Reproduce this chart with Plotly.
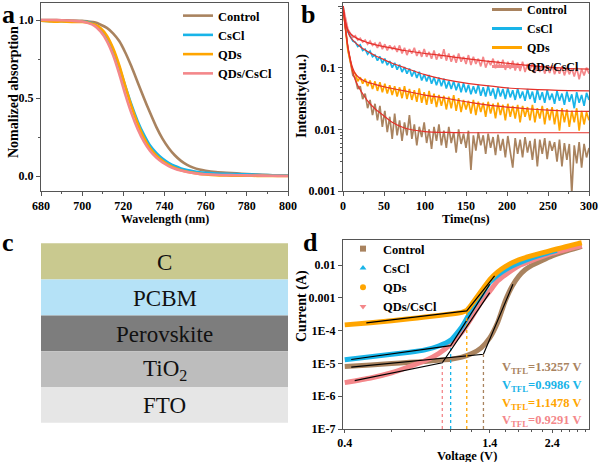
import plotly.graph_objects as go

W, H = 600, 462
def px(x): return x / W
def py(y): return 1 - y / H

FONT = "Liberation Serif"
C_CTRL = "#A9835F"
C_CSCL = "#18B4E8"
C_QDS = "#FFA500"
C_QC = "#F4878A"
C_FIT = "#E5302A"
AX = "#555555"

samples = ["Control", "CsCl", "QDs", "QDs/CsCl"]
colors = [C_CTRL, C_CSCL, C_QDS, C_QC]

# ---------------- panel a : absorption ----------------
wl = [680, 685, 690, 695, 700, 703, 706, 709, 712, 715, 718, 721, 724, 727, 730, 733,
      736, 739, 742, 745, 748, 751, 754, 757, 760, 765, 770, 775, 780, 785, 790, 795, 800]
abs_ctrl = [1.0, 1.0, 0.998, 0.997, 0.995, 0.99, 0.985, 0.97, 0.95, 0.915, 0.865, 0.79, 0.7,
            0.6, 0.5, 0.405, 0.315, 0.24, 0.18, 0.133, 0.097, 0.072, 0.054, 0.042, 0.034,
            0.025, 0.02, 0.017, 0.013, 0.009, 0.006, 0.003, 0.002]
abs_cscl = [0.995, 0.993, 0.992, 0.99, 0.99, 0.985, 0.97, 0.94, 0.89, 0.81, 0.7, 0.575, 0.455,
            0.35, 0.265, 0.195, 0.148, 0.112, 0.085, 0.064, 0.049, 0.038, 0.03, 0.024, 0.02,
            0.016, 0.014, 0.012, 0.011, 0.008, 0.006, 0.004, 0.003]
abs_qds = [0.995, 0.99, 0.99, 0.988, 0.988, 0.983, 0.972, 0.948, 0.9, 0.82, 0.71, 0.575, 0.445,
           0.335, 0.245, 0.178, 0.132, 0.097, 0.071, 0.051, 0.037, 0.027, 0.02, 0.014, 0.01,
           0.005, 0.003, 0.002, 0.002, 0.001, 0.001, 0.0, 0.0]
abs_qc = [1.0, 1.0, 0.998, 0.995, 0.99, 0.98, 0.962, 0.925, 0.865, 0.775, 0.655, 0.52, 0.4,
          0.3, 0.22, 0.16, 0.118, 0.087, 0.064, 0.047, 0.035, 0.026, 0.019, 0.014, 0.011,
          0.008, 0.006, 0.005, 0.004, 0.003, 0.002, 0.001, 0.0]

# ---------------- panel b : TRPL ----------------
t_ns = list(range(0, 301, 3))
pl_ctrl = [1.0, 0.42, 0.2, 0.125, 0.075, 0.068, 0.045, 0.05, 0.031, 0.038,
           0.022, 0.03, 0.017, 0.026, 0.014, 0.024, 0.011, 0.02, 0.009, 0.016,
           0.007, 0.018, 0.008, 0.014, 0.0065, 0.013, 0.008, 0.017, 0.007, 0.012,
           0.0055, 0.011, 0.0075, 0.013, 0.006, 0.01, 0.0048, 0.011, 0.0065, 0.012,
           0.0055, 0.0095, 0.005, 0.011, 0.006, 0.009, 0.0042, 0.01, 0.0058, 0.0085,
           0.005, 0.0095, 0.0022, 0.008, 0.0045, 0.009, 0.0055, 0.008, 0.004, 0.0085,
           0.005, 0.0075, 0.0038, 0.0082, 0.0045, 0.007, 0.0035, 0.0078, 0.0045, 0.0024,
           0.0072, 0.004, 0.0068, 0.0035, 0.0075, 0.0042, 0.0065, 0.0032, 0.007, 0.0025,
           0.0068, 0.004, 0.0072, 0.0033, 0.0065, 0.0045, 0.0062, 0.003, 0.0068, 0.0025,
           0.006, 0.0032, 0.0058, 0.0009, 0.0055, 0.0028, 0.0062, 0.0024, 0.0058, 0.0035,
           0.005]
pl_cscl = [1.0, 0.52, 0.38, 0.31, 0.27, 0.26, 0.22, 0.235, 0.19, 0.2,
           0.165, 0.185, 0.15, 0.16, 0.13, 0.152, 0.118, 0.14, 0.11, 0.128,
           0.1, 0.12, 0.093, 0.112, 0.085, 0.102, 0.08, 0.097, 0.072, 0.09,
           0.068, 0.086, 0.062, 0.078, 0.06, 0.076, 0.055, 0.07, 0.052, 0.069,
           0.05, 0.066, 0.046, 0.061, 0.045, 0.06, 0.043, 0.057, 0.04, 0.056,
           0.04, 0.053, 0.037, 0.05, 0.038, 0.053, 0.035, 0.048, 0.034, 0.051,
           0.035, 0.046, 0.031, 0.048, 0.034, 0.045, 0.031, 0.047, 0.033, 0.043,
           0.03, 0.046, 0.032, 0.041, 0.029, 0.045, 0.031, 0.041, 0.027, 0.044,
           0.03, 0.04, 0.027, 0.043, 0.03, 0.038, 0.026, 0.042, 0.029, 0.038,
           0.025, 0.041, 0.028, 0.037, 0.022, 0.04, 0.027, 0.036, 0.024, 0.039,
           0.03]
pl_qds = [1.0, 0.43, 0.19, 0.125, 0.085, 0.08, 0.06, 0.07, 0.055, 0.066,
          0.05, 0.062, 0.045, 0.06, 0.042, 0.058, 0.04, 0.055, 0.038, 0.052,
          0.036, 0.05, 0.034, 0.048, 0.032, 0.05, 0.031, 0.045, 0.03, 0.043,
          0.028, 0.046, 0.027, 0.04, 0.025, 0.042, 0.026, 0.038, 0.023, 0.036,
          0.024, 0.035, 0.021, 0.034, 0.022, 0.036, 0.02, 0.032, 0.019, 0.03,
          0.021, 0.029, 0.018, 0.03, 0.017, 0.028, 0.019, 0.027, 0.016, 0.028,
          0.018, 0.026, 0.015, 0.027, 0.017, 0.025, 0.014, 0.026, 0.016, 0.024,
          0.015, 0.025, 0.013, 0.024, 0.016, 0.023, 0.014, 0.025, 0.013, 0.022,
          0.015, 0.024, 0.012, 0.022, 0.014, 0.023, 0.012, 0.021, 0.0095, 0.022,
          0.013, 0.021, 0.011, 0.02, 0.013, 0.022, 0.0095, 0.02, 0.012, 0.019,
          0.014]
pl_qc = [1.0, 0.6, 0.42, 0.36, 0.31, 0.33, 0.28, 0.3, 0.26, 0.28,
         0.24, 0.27, 0.23, 0.25, 0.21, 0.26, 0.2, 0.24, 0.19, 0.23,
         0.2, 0.22, 0.18, 0.23, 0.17, 0.21, 0.16, 0.2, 0.17, 0.21,
         0.155, 0.19, 0.15, 0.2, 0.15, 0.18, 0.14, 0.19, 0.135, 0.17,
         0.14, 0.2, 0.13, 0.17, 0.125, 0.16, 0.12, 0.17, 0.125, 0.15,
         0.115, 0.16, 0.11, 0.15, 0.115, 0.14, 0.105, 0.15, 0.1, 0.13,
         0.11, 0.14, 0.098, 0.13, 0.1, 0.135, 0.092, 0.125, 0.095, 0.13,
         0.09, 0.12, 0.088, 0.125, 0.085, 0.115, 0.09, 0.12, 0.082, 0.11,
         0.085, 0.115, 0.08, 0.105, 0.082, 0.11, 0.078, 0.1, 0.08, 0.105,
         0.075, 0.1, 0.078, 0.098, 0.072, 0.1, 0.065, 0.095, 0.075, 0.1,
         0.08]
fit_t = [0, 1, 2, 3, 4, 5, 6, 8, 10, 12, 15, 20, 25, 30, 40, 50, 60, 75, 100, 125, 150,
         175, 200, 225, 250, 275, 300]
fit_ctrl = [1.0, 0.75, 0.55, 0.42, 0.33, 0.26, 0.21, 0.15, 0.11, 0.085, 0.063, 0.046, 0.036,
            0.029, 0.021, 0.0165, 0.013, 0.0105, 0.0092, 0.0089, 0.0088, 0.0088, 0.0088,
            0.0088, 0.0088, 0.0088, 0.0088]
fit_cscl = [1.0, 0.8, 0.65, 0.55, 0.48, 0.43, 0.39, 0.33, 0.3, 0.28, 0.255, 0.225, 0.2,
            0.183, 0.155, 0.135, 0.118, 0.1, 0.077, 0.064, 0.056, 0.051, 0.047, 0.045,
            0.0435, 0.0425, 0.042]
fit_qds = [1.0, 0.75, 0.56, 0.43, 0.34, 0.27, 0.22, 0.16, 0.12, 0.098, 0.08, 0.068, 0.062,
           0.058, 0.053, 0.049, 0.046, 0.042, 0.036, 0.032, 0.028, 0.025, 0.023, 0.0215,
           0.0205, 0.0198, 0.0195]
fit_qc = [1.0, 0.8, 0.65, 0.56, 0.49, 0.44, 0.41, 0.37, 0.345, 0.33, 0.31, 0.285, 0.27,
          0.255, 0.235, 0.22, 0.207, 0.19, 0.17, 0.155, 0.14, 0.128, 0.118, 0.109, 0.102,
          0.097, 0.095]

# ---------------- panel c : device stack ----------------
layers = ["C", "PCBM", "Perovskite", "TiO<sub>2</sub>", "FTO"]
layer_colors = ["#C9C98F", "#B5E2F7", "#7D7D7D", "#BDBDBD", "#E6E6E6"]

# ---------------- panel d : SCLC ----------------
v_ctrl = [0.4, 0.5, 0.6, 0.7, 0.8, 0.9, 1.0, 1.1, 1.2, 1.3, 1.4, 1.5, 1.6, 1.7, 1.8, 1.9,
          2.0, 2.2, 2.4, 2.6, 2.8, 3.0, 3.1]
i_ctrl = [8.0e-6, 9.0e-6, 1.0e-5, 1.08e-5, 1.15e-5, 1.25e-5, 1.35e-5, 1.55e-5, 2.0e-5,
          3.0e-5, 6.0e-5, 1.8e-4, 8.0e-4, 2.3e-3, 4.6e-3, 7.2e-3, 9.5e-3, 0.0138, 0.019,
          0.024, 0.029, 0.034, 0.037]
v_cscl = [0.4, 0.5, 0.6, 0.7, 0.8, 0.9, 1.0, 1.1, 1.2, 1.3, 1.4, 1.5, 1.6, 1.8, 2.0, 2.2,
          2.5]
i_cscl = [1.3e-5, 1.6e-5, 1.9e-5, 2.2e-5, 2.6e-5, 3.4e-5, 5.2e-5, 1.3e-4, 4.5e-4, 1.2e-3,
          3.0e-3, 5.0e-3, 7.2e-3, 0.0115, 0.0162, 0.021, 0.028]
v_qds = [0.4, 0.5, 0.6, 0.7, 0.8, 0.9, 1.0, 1.1, 1.15, 1.2, 1.3, 1.4, 1.5, 1.6, 1.8, 2.0,
         2.2, 2.4, 2.6, 2.8, 3.0, 3.1]
i_qds = [1.5e-4, 1.75e-4, 2.0e-4, 2.3e-4, 2.6e-4, 2.9e-4, 3.2e-4, 3.6e-4, 4.2e-4, 6.5e-4,
         1.6e-3, 3.6e-3, 6.2e-3, 9.0e-3, 0.0145, 0.019, 0.0235, 0.0285, 0.0335, 0.039,
         0.045, 0.048]
v_qc = [0.4, 0.5, 0.6, 0.7, 0.8, 0.9, 1.0, 1.1, 1.2, 1.3, 1.4, 1.5, 1.6, 1.8, 2.0, 2.2,
        2.4, 2.6, 2.8, 3.0, 3.1]
i_qc = [2.6e-6, 3.6e-6, 5.2e-6, 8.0e-6, 1.2e-5, 2.0e-5, 3.9e-5, 9.0e-5, 2.6e-4, 7.5e-4,
        1.6e-3, 3.3e-3, 5.0e-3, 9.5e-3, 0.0135, 0.018, 0.023, 0.027, 0.032, 0.037, 0.039]
# linear fits (ohmic + trap-filling) and V_TFL
vtfl = [1.3257, 0.9986, 1.1478, 0.9291]
fitv = [[0.423, 1.3257, 1.71], [0.423, 0.9986, 1.40], [0.482, 1.1478, 1.46], [0.436, 0.9291, 1.40]]
fiti = [[7.7e-6, 1.9e-5, 2.6e-3], [1.32e-5, 3.5e-5, 2.6e-3], [1.73e-4, 4.0e-4, 4.7e-3],
        [3.0e-6, 1.05e-5, 1.45e-3]]
i_floor = 1e-7
vtfl_text = ["1.3257", "0.9986", "1.1478", "0.9291"]

fig = go.Figure()

# panel a traces
for name, ys, col in zip(samples, [abs_ctrl, abs_cscl, abs_qds, abs_qc], colors):
    fig.add_trace(go.Scatter(x=wl, y=ys, mode="lines", name=name,
                             line=dict(color=col, width=2.6, shape="spline", smoothing=0.6),
                             xaxis="x", yaxis="y", legend="legend"))

# panel b traces
for name, ys, col in zip(samples, [pl_ctrl, pl_cscl, pl_qds, pl_qc], colors):
    fig.add_trace(go.Scatter(x=t_ns, y=ys, mode="lines", name=name, showlegend=False,
                             line=dict(color=col, width=1.7),
                             xaxis="x2", yaxis="y2"))
for ys in [fit_ctrl, fit_cscl, fit_qds, fit_qc]:
    fig.add_trace(go.Scatter(x=fit_t, y=ys, mode="lines", showlegend=False,
                             line=dict(color=C_FIT, width=1.2, shape="spline", smoothing=0.5),
                             xaxis="x2", yaxis="y2"))
for name, col in zip(samples, colors):
    fig.add_trace(go.Scatter(x=[None], y=[None], mode="lines", name=name,
                             line=dict(color=col, width=3), xaxis="x2", yaxis="y2",
                             legend="legend2"))

# panel d traces
order = [0, 3, 1, 2]
vs = [v_ctrl, v_cscl, v_qds, v_qc]
iis = [i_ctrl, i_cscl, i_qds, i_qc]
for k in order:
    fig.add_trace(go.Scatter(x=vs[k], y=iis[k], mode="lines", showlegend=False,
                             line=dict(color=colors[k], width=5, shape="spline", smoothing=0.5),
                             xaxis="x3", yaxis="y3"))
for k in range(4):
    fig.add_trace(go.Scatter(x=fitv[k], y=fiti[k], mode="lines", showlegend=False,
                             line=dict(color="black", width=1.2), xaxis="x3", yaxis="y3"))
    fig.add_trace(go.Scatter(x=[vtfl[k], vtfl[k]], y=[i_floor, fiti[k][1]], mode="lines",
                             showlegend=False,
                             line=dict(color=colors[k], width=1.3, dash="dot"),
                             xaxis="x3", yaxis="y3"))
symbols = ["square", "triangle-up", "circle", "triangle-down"]
for name, col, sym in zip(samples, colors, symbols):
    fig.add_trace(go.Scatter(x=[None], y=[None], mode="markers", name=name,
                             marker=dict(color=col, symbol=sym, size=6),
                             xaxis="x3", yaxis="y3", legend="legend3"))

tickfont = dict(family=FONT, size=12, color="black", weight="bold")
def axis(**kw):
    d = dict(showline=True, mirror=True, linecolor=AX, linewidth=1, ticks="outside",
             ticklen=4, tickwidth=1, tickcolor=AX, showgrid=False, zeroline=False,
             tickfont=tickfont, automargin=False)
    d.update(kw)
    return d

minor = dict(ticks="outside", ticklen=2, tickcolor=AX, showgrid=False)

legfont = dict(family=FONT, size=12.5, color="black", weight="bold")

shapes = []
annotations = []
# panel c
tops = [243.3, 279.5, 315.5, 351.2, 386.9, 422.7]
for i, (lab, col) in enumerate(zip(layers, layer_colors)):
    shapes.append(dict(type="rect", xref="paper", yref="paper", x0=px(41), x1=px(288),
                       y0=py(tops[i + 1]), y1=py(tops[i]), fillcolor=col, line=dict(width=0),
                       layer="below"))
    annotations.append(dict(text=lab, xref="paper", yref="paper", x=px(164.5),
                            y=py((tops[i] + tops[i + 1]) / 2 + 1), showarrow=False,
                            xanchor="center", yanchor="middle",
                            font=dict(family=FONT, size=23, color="#111111")))

def ann(text, x, y, size, color="black", angle=0, xanchor="center", weight="bold"):
    annotations.append(dict(text=text, xref="paper", yref="paper", x=px(x), y=py(y),
                            showarrow=False, textangle=angle, xanchor=xanchor,
                            yanchor="middle",
                            font=dict(family=FONT, size=size, color=color, weight=weight)))

# panel letters
ann("a", 8.5, 15, 26)
ann("b", 307.5, 15, 26)
ann("c", 7.5, 242, 26)
ann("d", 310, 242, 26)
# axis titles
ann("Wavelength (nm)", 165, 219, 12)
ann("Nomalized absorption", 13, 92, 14, angle=-90)
ann("Time(ns)", 466, 218.5, 12.5)
ann("Intensity(a.u.)", 302, 96, 14, angle=-90)
ann("Voltage (V)", 467, 456, 12.5)
ann("Current (A)", 302, 306, 14, angle=-90)
# V_TFL labels
for k, yy in zip(range(4), [367.7, 386, 403.7, 421]):
    ann("V<sub>TFL</sub>=" + vtfl_text[k] + " V", 584, yy, 12.5, color=colors[k], xanchor="right")

fig.update_layout(
    width=W, height=H, margin=dict(l=0, r=0, t=0, b=0, autoexpand=False),
    paper_bgcolor="white", plot_bgcolor="white",
    xaxis=axis(domain=[px(41), px(288)], range=[680, 800], dtick=20, tick0=680,
               minor=dict(dtick=10, **minor), anchor="y"),
    yaxis=axis(domain=[py(191), py(3)], range=[-0.096, 1.109], dtick=0.5, tick0=0,
               tickformat=".1f", minor=dict(dtick=0.25, **minor), anchor="x"),
    xaxis2=axis(domain=[px(343), px(589)], range=[0, 300], dtick=50, tick0=0,
                minor=dict(dtick=25, **minor), anchor="y2"),
    yaxis2=axis(domain=[py(191), py(3)], type="log", range=[-3, 0.049],
                tickmode="array", tickvals=[0.001, 0.01, 0.1, 1],
                ticktext=["0.001", "0.01", "0.1", "1"],
                minor=dict(dtick="D1", **minor), anchor="x2"),
    xaxis3=axis(domain=[px(343), px(589)], type="log", range=[-0.4045, 0.5185],
                tickmode="array", tickvals=[0.4, 1.4, 2.4], ticktext=["0.4", "1.4", "2.4"],
                ticklen=3,
                minor=dict(tickmode="array",
                           tickvals=[0.6, 0.8, 1.0, 1.2, 1.6, 1.8, 2.0, 2.2, 2.6, 2.8, 3.0, 3.2],
                           **minor), anchor="y3"),
    yaxis3=axis(domain=[py(429), py(240)], type="log", range=[-7, -1.235],
                tickmode="array", tickvals=[1e-7, 1e-6, 1e-5, 1e-4, 1e-3, 1e-2],
                ticktext=["1E-7", "1E-6", "1E-5", "1E-4", "0.001", "0.01"], anchor="x3"),
    legend=dict(x=px(178), y=py(1), xanchor="left", yanchor="top", bgcolor="rgba(0,0,0,0)",
                font=legfont, itemwidth=30, borderwidth=0),
    legend2=dict(x=px(487), y=py(-5), xanchor="left", yanchor="top", bgcolor="rgba(0,0,0,0)",
                 font=dict(family=FONT, size=12, color="black", weight="bold"),
                 itemwidth=30, borderwidth=0),
    legend3=dict(x=px(343), y=py(234), xanchor="left", yanchor="top",
                 bgcolor="rgba(0,0,0,0)", font=legfont, itemwidth=30, borderwidth=0),
    shapes=shapes, annotations=annotations,
)

fig.write_html("out.html", config={"displayModeBar": False},
               post_script="document.body.style.margin='0px';document.body.style.padding='0px';")
